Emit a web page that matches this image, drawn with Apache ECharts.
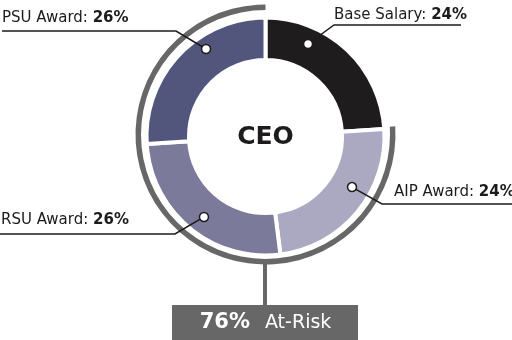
<!DOCTYPE html>
<html>
<head>
<meta charset="utf-8">
<script src="https://cdn.jsdelivr.net/npm/echarts@6/dist/echarts.min.js"></script>
<style>
  html, body { margin: 0; padding: 0; background: #fff; }
  #chart { width: 512px; height: 340px; }
</style>
</head>
<body>
<div id="chart"></div>
<script>
// Pay mix for the CEO: share of total target compensation per element
const categories = ['Base Salary', 'AIP Award', 'RSU Award', 'PSU Award'];
const shares = [24, 24, 26, 26];
const atRiskCategories = ['AIP Award', 'RSU Award', 'PSU Award'];
const centerTitle = 'CEO';
const atRiskLabel = 'At-Risk';

// Marker dots placed on each slice: [angle in degrees clockwise from 12 o'clock, radius in px]
const dotAngles = [24.7, 120.3, 217.4, 325.8];
const dotRadii = [101.8, 100.2, 101.3, 105.8];

// ---- layout / style ----
const FONT = 'DejaVu Sans';
const CX = 265.5, CY = 136.5;
const RING_CY = 134.5;
const sliceColors = ['#1f1c1d', '#aba9c2', '#7c7a9a', '#52567c'];
const ringGray = '#676767';
const ink = '#1e1b1c';

// Label text anchors and leader-line geometry (bend point, end point)
const labelPos = [
  { x: 334, y: 15.5, bend: [334, 25], end: [461, 25] },
  { x: 394, y: 192.5, bend: [382, 204], end: [512, 204] },
  { x: 1, y: 220, bend: [175, 234], end: [0, 234] },
  { x: 2, y: 18, bend: [176, 31], end: [2, 31] }
];

const atRiskTotal = categories.reduce(function (s, c, i) {
  return atRiskCategories.indexOf(c) >= 0 ? s + shares[i] : s;
}, 0);
const fixedTotal = shares.reduce(function (a, b) { return a + b; }, 0) - atRiskTotal;

function dotPixel(i) {
  const a = dotAngles[i] * Math.PI / 180;
  return [CX + dotRadii[i] * Math.sin(a), CY - dotRadii[i] * Math.cos(a)];
}

const chart = echarts.init(document.getElementById('chart'), null, { renderer: 'canvas' });

chart.setOption({
  animation: false,
  backgroundColor: '#fff',
  textStyle: { fontFamily: FONT },
  polar: { center: [CX, CY], radius: 117 },
  angleAxis: { type: 'value', min: 0, max: 360, startAngle: 90, clockwise: true, show: false },
  radiusAxis: { type: 'value', min: 0, max: 117, show: false },
  series: [
    {
      // Donut slices
      type: 'pie',
      z: 2,
      center: [CX, CY],
      radius: [76.5, 119],
      startAngle: 90,
      clockwise: true,
      silent: true,
      itemStyle: { borderColor: '#fff', borderWidth: 4 },
      label: { show: false },
      labelLine: { show: false },
      data: categories.map(function (c, i) {
        return { name: c, value: shares[i], itemStyle: { color: sliceColors[i] } };
      })
    },
    {
      // Same slices, invisible, carrying the callout labels above the donut
      type: 'pie',
      z: 3,
      center: [CX, CY],
      radius: [76.5, 119],
      startAngle: 90,
      clockwise: true,
      avoidLabelOverlap: false,
      silent: true,
      itemStyle: { color: 'rgba(0,0,0,0)', borderWidth: 0 },
      label: {
        show: true,
        position: 'outside',
        formatter: '{n|{b}: }{v|{c}%}',
        rich: {
          n: { fontFamily: FONT, fontSize: 15, color: ink },
          v: { fontFamily: FONT, fontSize: 15, fontWeight: 'bold', color: ink }
        }
      },
      labelLine: { show: true, lineStyle: { color: ink, width: 1.5 } },
      labelLayout: function (params) {
        const p = labelPos[params.dataIndex];
        return {
          x: p.x,
          y: p.y,
          align: 'left',
          verticalAlign: 'middle',
          labelLinePoints: [dotPixel(params.dataIndex), p.bend, p.end]
        };
      },
      data: categories.map(function (c, i) {
        return { name: c, value: shares[i], itemStyle: { color: 'rgba(0,0,0,0)' } };
      })
    },
    {
      // Outer arc marking the at-risk portion of pay
      type: 'pie',
      z: 2,
      center: [CX, RING_CY],
      radius: [124.5, 130],
      startAngle: 90,
      clockwise: true,
      silent: true,
      label: { show: false },
      labelLine: { show: false },
      data: [
        { name: 'Fixed', value: fixedTotal, itemStyle: { color: 'rgba(0,0,0,0)' } },
        { name: atRiskLabel, value: atRiskTotal, itemStyle: { color: ringGray } }
      ]
    },
    {
      type: 'scatter',
      coordinateSystem: 'polar',
      z: 6,
      silent: true,
      symbol: 'circle',
      symbolSize: 9,
      itemStyle: { color: '#fff', borderColor: ink, borderWidth: 1.5, opacity: 1 },
      data: dotAngles.map(function (a, i) { return [dotRadii[i], a]; })
    }
  ],
  graphic: [
    {
      type: 'text',
      x: CX, y: CY + 1,
      style: {
        text: centerTitle,
        fontFamily: FONT, fontSize: 25, fontWeight: 'bold',
        fill: ink, align: 'center', verticalAlign: 'middle'
      }
    },
    {
      type: 'line',
      shape: { x1: CX - 0.5, y1: 263, x2: CX - 0.5, y2: 306 },
      style: { stroke: ringGray, lineWidth: 4 }
    },
    {
      type: 'rect',
      shape: { x: 172, y: 305, width: 186, height: 36 },
      style: { fill: ringGray }
    },
    {
      type: 'text',
      x: CX, y: 323,
      style: {
        text: '{b|' + atRiskTotal + '%}{r|' + atRiskLabel + '}',
        align: 'center', verticalAlign: 'middle',
        rich: {
          b: { fontFamily: FONT, fontSize: 21, fontWeight: 'bold', fill: '#fff', padding: [0, 15, 0, 0] },
          r: { fontFamily: FONT, fontSize: 19, fill: '#fff' }
        }
      }
    }
  ]
});
</script>
</body>
</html>
